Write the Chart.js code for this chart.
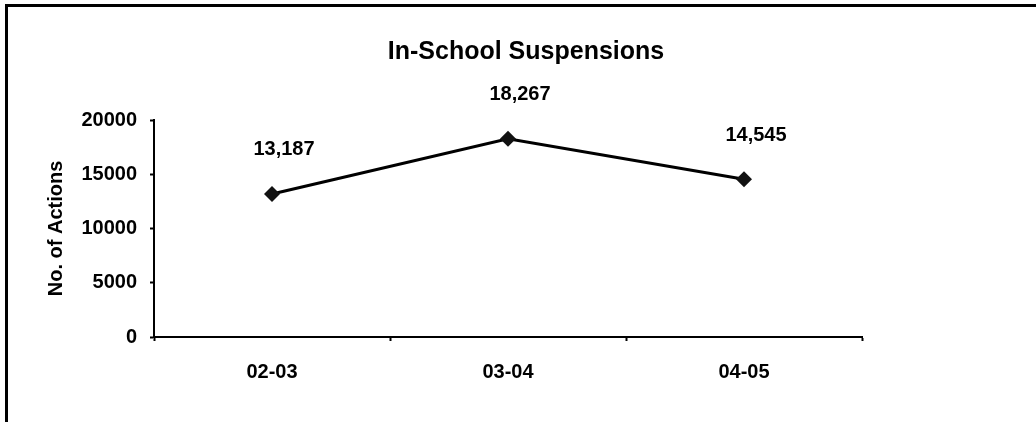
<!DOCTYPE html>
<html>
<head>
<meta charset="utf-8">
<script src="https://cdn.jsdelivr.net/npm/chart.js@4/dist/chart.umd.min.js"></script>
<style>
  html, body { margin: 0; padding: 0; background: #fff; }
  canvas { display: block; }
</style>
</head>
<body>
<canvas id="c" width="1036" height="422"></canvas>
<script>
const categories = ["02-03", "03-04", "04-05"];
const suspensions = [13187, 18267, 14545];
const chartTitle = "In-School Suspensions";
const yAxisTitle = "No. of Actions";
const yMin = 0, yMax = 20000, yStep = 5000;

const FONT = '"Liberation Sans", Arial, sans-serif';

const framePlugin = {
  id: 'frame',
  afterDraw(chart) {
    const ctx = chart.ctx;
    ctx.save();
    ctx.fillStyle = '#000';
    ctx.fillRect(5, 4, 1031, 3);
    ctx.fillRect(5, 4, 3, 418);
    ctx.font = 'bold 25px ' + FONT;
    ctx.textAlign = 'center';
    ctx.textBaseline = 'middle';
    ctx.fillText(chartTitle, 526, 52);
    ctx.restore();
  }
};

const labelPlugin = {
  id: 'pointLabels',
  afterDatasetsDraw(chart) {
    const ctx = chart.ctx;
    const meta = chart.getDatasetMeta(0);
    ctx.save();
    ctx.font = 'bold 20px ' + FONT;
    ctx.fillStyle = '#000';
    ctx.textAlign = 'center';
    ctx.textBaseline = 'middle';
    meta.data.forEach((pt, i) => {
      const v = chart.data.datasets[0].data[i];
      ctx.fillText(v.toLocaleString('en-US'), pt.x + 12, pt.y - 44);
    });
    ctx.restore();
  }
};

new Chart(document.getElementById('c'), {
  type: 'line',
  data: {
    labels: categories,
    datasets: [{
      data: suspensions,
      borderColor: '#000',
      borderWidth: 3,
      backgroundColor: '#000',
      pointStyle: 'rectRot',
      pointRadius: 8,
      pointHoverRadius: 8,
      pointBorderWidth: 0,
      pointBackgroundColor: '#111',
      tension: 0,
      fill: false
    }]
  },
  options: {
    responsive: false,
    animation: false,
    devicePixelRatio: 1,
    layout: { padding: { left: 0, right: 174, top: 120, bottom: 0 } },
    plugins: {
      legend: { display: false },
      title: { display: false },
      tooltip: { enabled: false }
    },
    scales: {
      x: {
        offset: true,
        afterFit(scale) { scale.height = 85; },
        border: { display: true, color: '#000', width: 2 },
        grid: {
          display: true,
          offset: true,
          drawOnChartArea: false,
          drawTicks: true,
          tickLength: 4,
          tickWidth: 2,
          tickColor: '#000'
        },
        ticks: {
          color: '#000',
          font: { family: FONT, size: 20, weight: 'bold' },
          padding: 19,
          maxRotation: 0
        }
      },
      y: {
        min: yMin,
        max: yMax,
        afterFit(scale) { scale.width = 154; },
        border: { display: true, color: '#000', width: 2 },
        grid: {
          display: true,
          drawOnChartArea: false,
          drawTicks: true,
          tickLength: 4,
          tickWidth: 2,
          tickColor: '#000'
        },
        ticks: {
          stepSize: yStep,
          color: '#000',
          font: { family: FONT, size: 20, weight: 'bold' },
          padding: 13,
          callback: v => String(v)
        },
        title: {
          display: true,
          text: yAxisTitle,
          color: '#000',
          font: { family: FONT, size: 20, weight: 'bold', lineHeight: 1.2 },
          padding: { top: 44, bottom: 0 }
        }
      }
    }
  },
  plugins: [framePlugin, labelPlugin]
});
</script>
</body>
</html>
